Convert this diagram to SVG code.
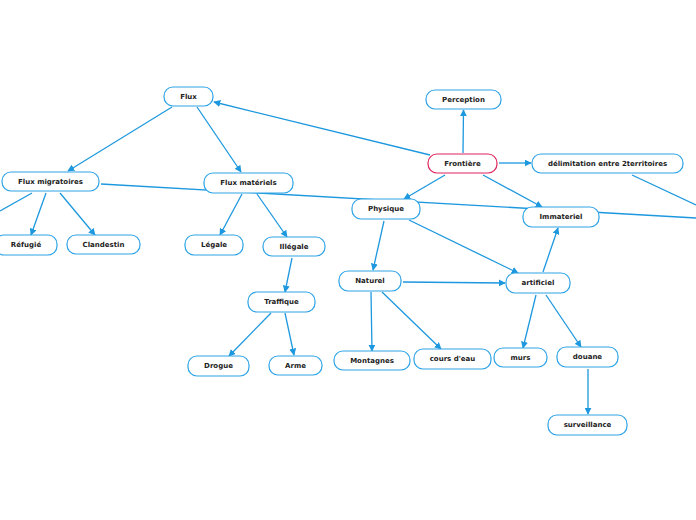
<svg xmlns="http://www.w3.org/2000/svg" width="696" height="520" viewBox="0 0 696 520">
<defs>
<marker id="arr" viewBox="0 0 10 10" refX="9" refY="5" markerWidth="7" markerHeight="7" markerUnits="userSpaceOnUse" orient="auto">
<path d="M0,0 L10,5 L0,10 z" fill="#1d98de"/>
</marker>
<style>
.n rect{fill:#fff;stroke:#2ea3e6;stroke-width:1.2;}
.n.root rect{stroke:#e0245e;}
.n text{font-family:"DejaVu Sans",Verdana,sans-serif;font-weight:bold;font-size:7px;fill:#222;text-anchor:middle;dominant-baseline:central;}
.c line{stroke:#1d98de;stroke-width:1.3;fill:none;}
.c line.a{marker-end:url(#arr);}
</style>
</defs>
<rect width="696" height="520" fill="#fff"/>
<g id="connectors" class="c">
<line x1="101" y1="184" x2="696" y2="218"/>
<line x1="632" y1="175" x2="696" y2="205"/>
<line x1="32" y1="193" x2="0" y2="211"/>
<line class="a" x1="430" y1="155" x2="214" y2="102"/>
<line class="a" x1="463" y1="153" x2="463.5" y2="110"/>
<line class="a" x1="499" y1="163" x2="531" y2="163"/>
<line class="a" x1="445" y1="175" x2="404" y2="199"/>
<line class="a" x1="483" y1="175" x2="542" y2="207"/>
<line class="a" x1="172" y1="107" x2="68" y2="171"/>
<line class="a" x1="197" y1="107" x2="241" y2="172"/>
<line class="a" x1="46" y1="193" x2="31" y2="235"/>
<line class="a" x1="60" y1="193" x2="95" y2="235"/>
<line class="a" x1="242" y1="194" x2="220" y2="235"/>
<line class="a" x1="257" y1="194" x2="287" y2="237"/>
<line class="a" x1="292" y1="258" x2="285" y2="292"/>
<line class="a" x1="271" y1="313" x2="229" y2="356"/>
<line class="a" x1="285" y1="313" x2="294" y2="355"/>
<line class="a" x1="384" y1="221" x2="373" y2="270"/>
<line class="a" x1="409" y1="220" x2="518" y2="273"/>
<line class="a" x1="403" y1="282" x2="505" y2="283"/>
<line class="a" x1="371" y1="292" x2="372" y2="351"/>
<line class="a" x1="382" y1="292" x2="441" y2="349"/>
<line class="a" x1="543" y1="272" x2="558" y2="228"/>
<line class="a" x1="536" y1="295" x2="523" y2="348"/>
<line class="a" x1="546" y1="295" x2="581" y2="347"/>
<line class="a" x1="588" y1="369" x2="588" y2="414"/>
</g>
<g id="flux" class="n"><rect x="164" y="87" width="49" height="19" rx="9"/><text x="188.5" y="96.5">Flux</text></g>
<g id="perception" class="n"><rect x="426" y="90" width="75" height="19" rx="9"/><text x="463.5" y="99.5">Perception</text></g>
<g id="frontiere" class="n root"><rect x="428" y="154" width="69" height="19" rx="9"/><text x="462.5" y="163.5">Frontière</text></g>
<g id="delimitation" class="n"><rect x="532" y="154" width="151" height="19" rx="9"/><text x="607.5" y="163.5">délimitation entre 2territoires</text></g>
<g id="flux-migratoires" class="n"><rect x="2" y="172" width="97" height="19" rx="9"/><text x="50.5" y="181.5">Flux migratoires</text></g>
<g id="flux-materiels" class="n"><rect x="204" y="173" width="89" height="20" rx="9"/><text x="248.5" y="183">Flux matériels</text></g>
<g id="physique" class="n"><rect x="352" y="199" width="68" height="20" rx="9"/><text x="386" y="209">Physique</text></g>
<g id="immateriel" class="n"><rect x="523" y="207" width="76" height="20" rx="9"/><text x="561" y="217">Immateriel</text></g>
<g id="refugie" class="n"><rect x="-5" y="235" width="62" height="20" rx="9"/><text x="26" y="245">Réfugié</text></g>
<g id="clandestin" class="n"><rect x="67" y="235" width="73" height="19" rx="9"/><text x="103.5" y="244.5">Clandestin</text></g>
<g id="legale" class="n"><rect x="185" y="235" width="58" height="20" rx="9"/><text x="214" y="245">Légale</text></g>
<g id="illegale" class="n"><rect x="263" y="237" width="62" height="19" rx="9"/><text x="294" y="246.5">Illégale</text></g>
<g id="traffique" class="n"><rect x="248" y="292" width="67" height="20" rx="9"/><text x="281.5" y="302">Traffique</text></g>
<g id="naturel" class="n"><rect x="339" y="271" width="62" height="20" rx="9"/><text x="370" y="281">Naturel</text></g>
<g id="artificiel" class="n"><rect x="506" y="273" width="64" height="20" rx="9"/><text x="538" y="283">artificiel</text></g>
<g id="drogue" class="n"><rect x="188" y="356" width="61" height="20" rx="9"/><text x="218.5" y="366">Drogue</text></g>
<g id="arme" class="n"><rect x="269" y="356" width="53" height="19" rx="9"/><text x="295.5" y="365.5">Arme</text></g>
<g id="montagnes" class="n"><rect x="334" y="351" width="76" height="19" rx="9"/><text x="372" y="360.5">Montagnes</text></g>
<g id="cours-deau" class="n"><rect x="414" y="349" width="77" height="20" rx="9"/><text x="452.5" y="359">cours d'eau</text></g>
<g id="murs" class="n"><rect x="494" y="348" width="53" height="19" rx="9"/><text x="520.5" y="357.5">murs</text></g>
<g id="douane" class="n"><rect x="557" y="347" width="61" height="20" rx="9"/><text x="587.5" y="357">douane</text></g>
<g id="surveillance" class="n"><rect x="548" y="415" width="79" height="20" rx="9"/><text x="587.5" y="425">surveillance</text></g>
</svg>
